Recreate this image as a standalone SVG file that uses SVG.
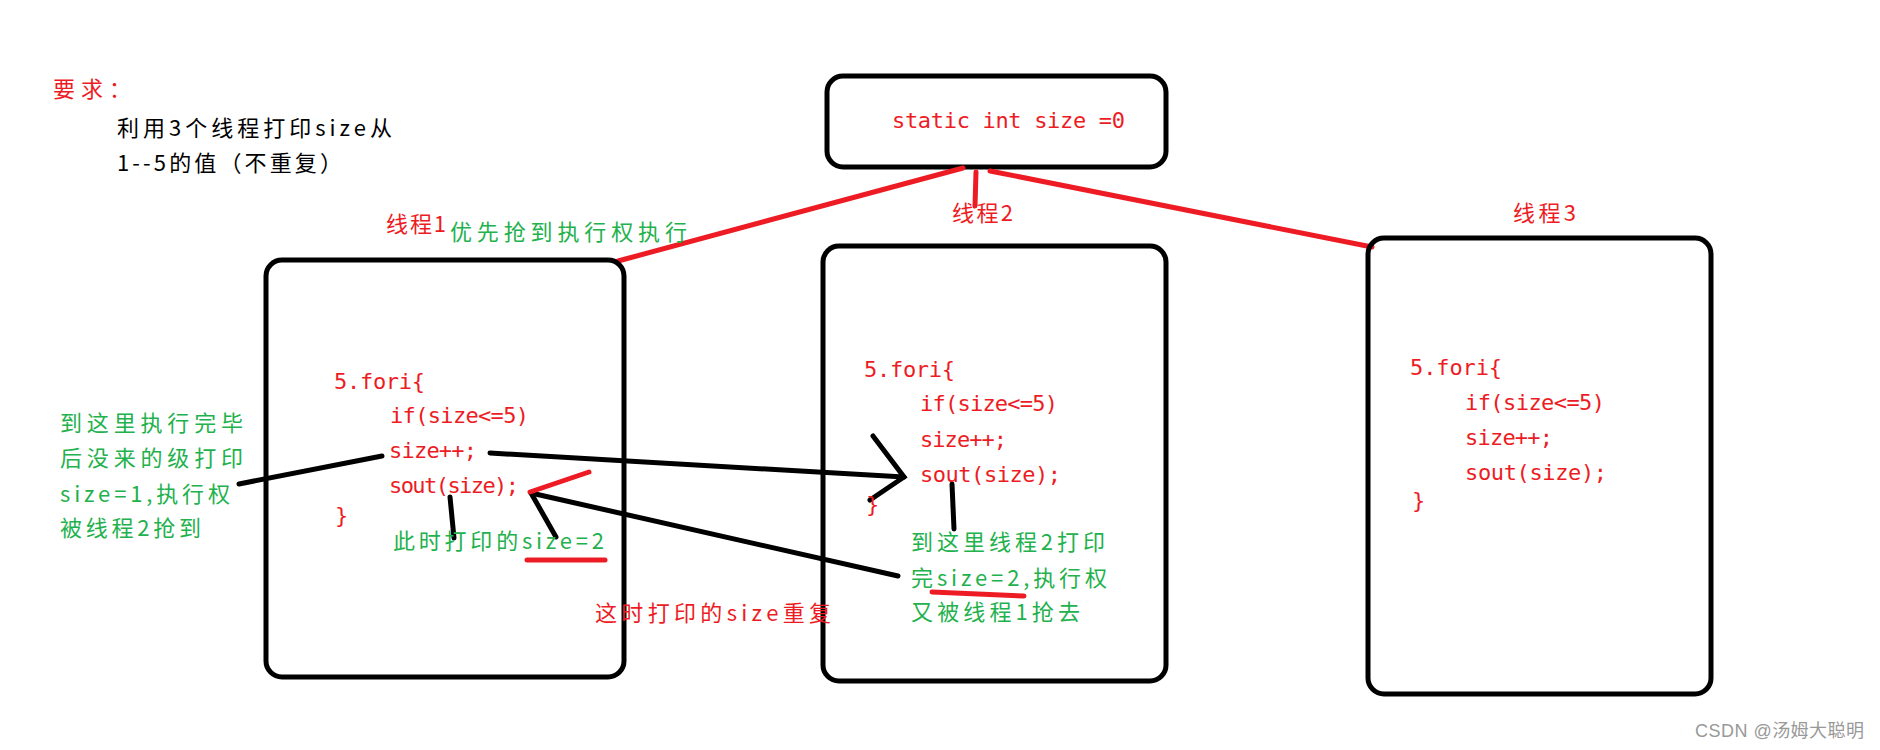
<svg xmlns="http://www.w3.org/2000/svg" width="1880" height="750" viewBox="0 0 1880 750">
<style>
.box{fill:none;stroke:#000;stroke-width:5}
.code{font-family:"DejaVu Sans Mono","Liberation Mono",monospace;font-size:22px;fill:#ed1c24}
.red{font-family:"Noto Sans CJK SC","Liberation Sans",sans-serif;font-size:22px;fill:#ed1c24}
.grn{font-family:"Noto Sans CJK SC","Liberation Sans",sans-serif;font-size:22px;fill:#22b14c}
.blk{font-family:"Noto Sans CJK SC","Liberation Sans",sans-serif;font-size:22px;fill:#000}
.rl{stroke:#ed1c24;stroke-width:5;fill:none;stroke-linecap:round}
.bl{stroke:#000;stroke-width:5;fill:none;stroke-linecap:round}
</style>
<rect width="1880" height="750" fill="#fff"/>
<g id="requirement">
<text class="red" x="53" y="97" textLength="78" lengthAdjust="spacing">要求：</text>
<text class="blk" x="117" y="136" textLength="275" lengthAdjust="spacing">利用3个线程打印size从</text>
<text class="blk" x="117" y="171" textLength="225" lengthAdjust="spacing">1--5的值（不重复）</text>
</g>
<g id="shared-var">
<rect class="box" x="827" y="76" width="339" height="91" rx="16"/>
<text class="code" x="892" y="128" textLength="233" lengthAdjust="spacing">static int size =0</text>
</g>
<g id="connectors">
<line class="rl" x1="963" y1="168" x2="618" y2="261"/>
<line class="rl" x1="976" y1="172" x2="975" y2="206"/>
<line class="rl" x1="990" y1="171" x2="1372" y2="247"/>
<line class="bl" x1="239" y1="484" x2="382" y2="456"/>
<line class="bl" x1="490" y1="453" x2="904" y2="477"/>
<polyline class="bl" points="873,436 904,477 870,500"/>
<line class="bl" x1="450" y1="497" x2="454" y2="538"/>
<line class="bl" x1="531" y1="493" x2="556" y2="537"/>
<line class="bl" x1="531" y1="493" x2="898" y2="576"/>
<line class="rl" x1="530" y1="492" x2="589" y2="472"/>
<line class="rl" x1="527" y1="560" x2="605" y2="560"/>
<line class="bl" x1="952" y1="484" x2="954" y2="529"/>
<line class="rl" x1="932" y1="592" x2="1024" y2="596"/>
</g>
<g id="thread1">
<rect class="box" x="266" y="260" width="358" height="417" rx="16"/>
<text class="red" x="386" y="232" textLength="60" lengthAdjust="spacing">线程1</text>
<text class="grn" x="450" y="240" textLength="237" lengthAdjust="spacing">优先抢到执行权执行</text>
<text class="code" x="334" y="389" textLength="91" lengthAdjust="spacing">5.fori{</text>
<text class="code" x="390" y="423" textLength="139" lengthAdjust="spacing">if(size&lt;=5)</text>
<text class="code" x="389" y="458" textLength="88" lengthAdjust="spacing">size++;</text>
<text class="code" x="389" y="493" textLength="130" lengthAdjust="spacing">sout(size);</text>
<text class="code" x="335" y="523">}</text>
<text class="grn" x="393" y="549" textLength="211" lengthAdjust="spacing">此时打印的size=2</text>
</g>
<g id="note-left">
<text class="grn" x="60" y="431" textLength="183" lengthAdjust="spacing">到这里执行完毕</text>
<text class="grn" x="60" y="466" textLength="183" lengthAdjust="spacing">后没来的级打印</text>
<text class="grn" x="60" y="502" textLength="170" lengthAdjust="spacing">size=1,执行权</text>
<text class="grn" x="60" y="536" textLength="141" lengthAdjust="spacing">被线程2抢到</text>
</g>
<g id="thread2">
<rect class="box" x="823" y="246" width="343" height="435" rx="16"/>
<text class="red" x="952" y="221" textLength="61" lengthAdjust="spacing">线程2</text>
<text class="code" x="864" y="377" textLength="91" lengthAdjust="spacing">5.fori{</text>
<text class="code" x="920" y="411" textLength="138" lengthAdjust="spacing">if(size&lt;=5)</text>
<text class="code" x="920" y="447" textLength="87" lengthAdjust="spacing">size++;</text>
<text class="code" x="920" y="482" textLength="141" lengthAdjust="spacing">sout(size);</text>
<text class="code" x="866" y="512">}</text>
<text class="grn" x="911" y="550" textLength="194" lengthAdjust="spacing">到这里线程2打印</text>
<text class="grn" x="911" y="586" textLength="196" lengthAdjust="spacing">完size=2,执行权</text>
<text class="grn" x="911" y="620" textLength="169" lengthAdjust="spacing">又被线程1抢去</text>
</g>
<g id="note-dup">
<text class="red" x="595" y="621" textLength="236" lengthAdjust="spacing">这时打印的size重复</text>
</g>
<g id="thread3">
<rect class="box" x="1368" y="238" width="343" height="456" rx="16"/>
<text class="red" x="1513" y="221" textLength="63" lengthAdjust="spacing">线程3</text>
<text class="code" x="1410" y="375" textLength="92" lengthAdjust="spacing">5.fori{</text>
<text class="code" x="1465" y="410" textLength="140" lengthAdjust="spacing">if(size&lt;=5)</text>
<text class="code" x="1465" y="445" textLength="88" lengthAdjust="spacing">size++;</text>
<text class="code" x="1465" y="480" textLength="142" lengthAdjust="spacing">sout(size);</text>
<text class="code" x="1412" y="508">}</text>
</g>
<g id="watermark">
<text x="1695" y="737" font-family="'Liberation Sans','Noto Sans CJK SC',sans-serif" font-size="18" fill="#999" textLength="169" lengthAdjust="spacing">CSDN @汤姆大聪明</text>
</g>
</svg>
